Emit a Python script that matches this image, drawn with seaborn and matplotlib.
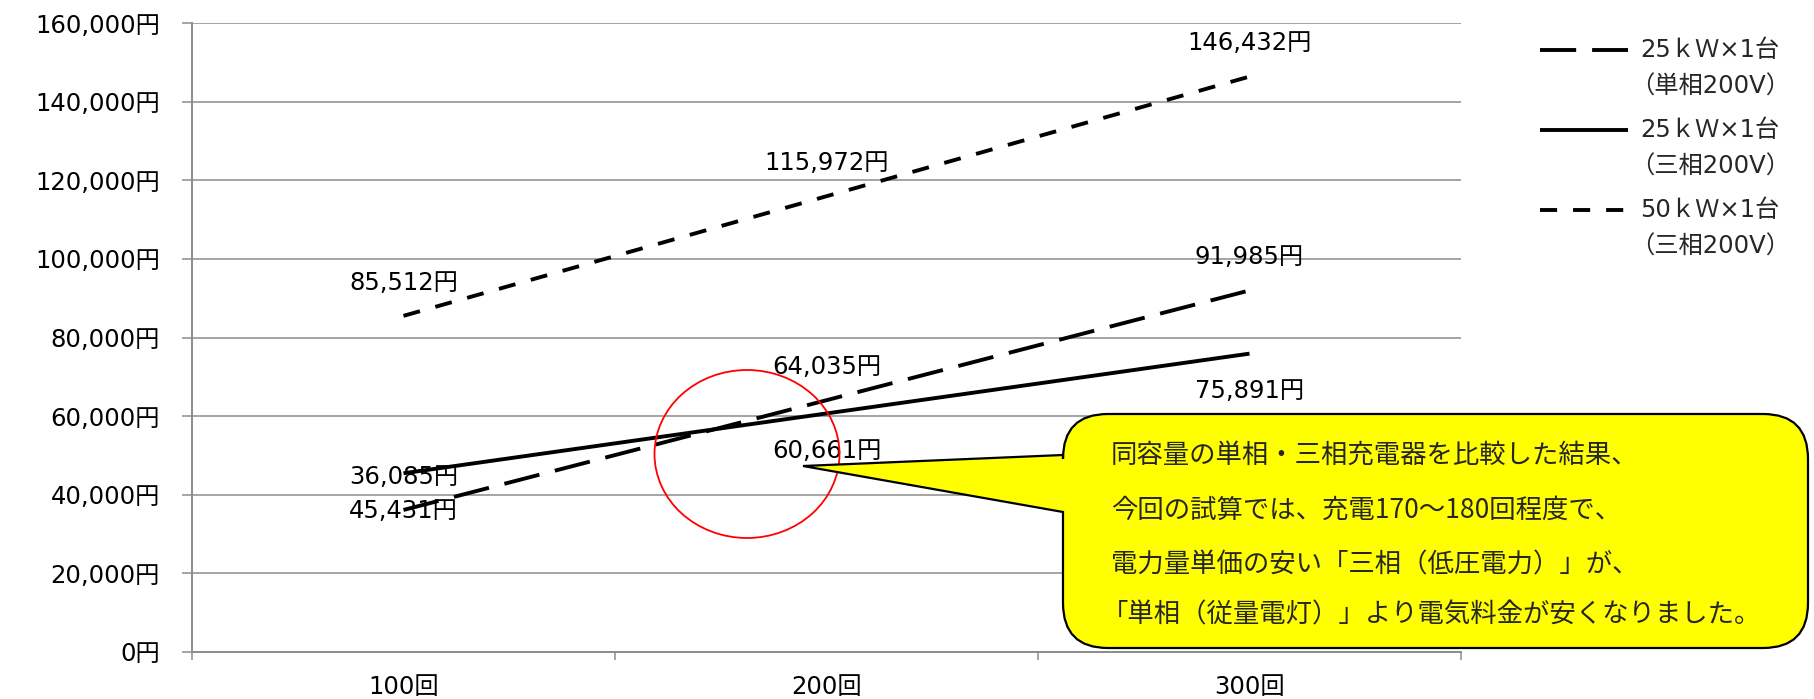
import matplotlib
matplotlib.use("Agg")
import matplotlib.pyplot as plt
from matplotlib.lines import Line2D
from matplotlib.patches import Ellipse, PathPatch
from matplotlib.path import Path
from matplotlib.ticker import FuncFormatter
import numpy as np
import pandas as pd
import seaborn as sns

# --- data ---
counts = ["100回", "200回", "300回"]
series = ["25ｋＷ×1台\n（単相200V）", "25ｋＷ×1台\n（三相200V）", "50ｋＷ×1台\n（三相200V）"]
single_25kw = [36085, 64035, 91985]
three_25kw = [45431, 60661, 75891]
three_50kw = [85512, 115972, 146432]
note_lines = [
    "同容量の単相・三相充電器を比較した結果、",
    "今回の試算では、充電170～180回程度で、",
    "電力量単価の安い「三相（低圧電力）」が、",
    "「単相（従量電灯）」より電気料金が安くなりました。",
]

W, H = 1815, 699
GRAY = "#8c8c8c"
LW = 2.8
FS = 17.5
dash_map = {series[0]: (9.3, 4.1), series[1]: "", series[2]: (4.4, 4.1)}
# label offset in points: above (+) or below (-) the point
label_offset = {series[0]: 24, series[1]: -27, series[2]: 24}

sns.set_theme(style="white")
plt.rcParams["font.family"] = ["DejaVu Sans", "Noto Sans CJK JP"]

df = pd.DataFrame({
    "pos": list(range(len(counts))) * 3,
    "cost": single_25kw + three_25kw + three_50kw,
    "series": np.repeat(series, len(counts)),
})

fig = plt.figure(figsize=(W / 100, H / 100), dpi=100)
ax = fig.add_axes([192 / W, (H - 651.7) / H, (1461 - 192) / W, (651.7 - 23.3) / H])


def px(x, y):
    """top-left pixel coords -> figure fraction"""
    return x / W, 1 - y / H


sns.lineplot(data=df, x="pos", y="cost", style="series", style_order=series,
             dashes=dash_map, color="black", lw=LW, legend=False, sort=False, ax=ax)
for line in ax.get_lines():
    line.set_dash_capstyle("butt")
    line.set_solid_capstyle("butt")

for name, vals in zip(series, [single_25kw, three_25kw, three_50kw]):
    off = label_offset[name]
    for i, v in enumerate(vals):
        ax.annotate(f"{v:,}円", (i, v), xytext=(0, off), textcoords="offset points",
                    ha="center", va="center", fontsize=FS, color="black",
                    annotation_clip=False, zorder=5)

ax.set_xlim(-0.5, len(counts) - 0.5)
ax.set_ylim(0, 160000)
ax.set_yticks(np.arange(0, 160001, 20000))
ax.yaxis.set_major_formatter(FuncFormatter(lambda v, _: f"{int(v):,}円"))
ax.set_xticks(np.arange(-0.5, len(counts), 1.0))
ax.set_xticklabels([])
ax.set_xticks(range(len(counts)), minor=True)
ax.set_xticklabels(counts, minor=True)
ax.set_xlabel("")
ax.set_ylabel("")

ax.tick_params(axis="y", which="major", length=7.2, width=1.1, color=GRAY, pad=16,
               labelsize=FS, labelcolor="black", left=True)
ax.tick_params(axis="x", which="major", length=5.8, width=1.1, color=GRAY, bottom=True)
ax.tick_params(axis="x", which="minor", length=0, pad=17, labelsize=FS, labelcolor="black")

ax.yaxis.grid(True, color=GRAY, lw=1.1)
ax.xaxis.grid(False)
for side in ["top", "right"]:
    ax.spines[side].set_visible(False)
for side in ["left", "bottom"]:
    ax.spines[side].set_color(GRAY)
    ax.spines[side].set_linewidth(1.4)
ax.set_facecolor("white")

# legend drawn by hand (handle aligned with first text line)
leg_y = [50, 130, 210]
for name, y in zip(series, leg_y):
    (x0, yy), (x1, _) = px(1540, y), px(1628, y)
    ln = Line2D([x0, x1], [yy, yy], transform=fig.transFigure, color="black", lw=LW,
                solid_capstyle="butt", dash_capstyle="butt")
    if dash_map[name]:
        ln.set_dashes(dash_map[name])
    fig.add_artist(ln)
    first, second = name.split("\n")
    fig.text(*px(1640, y), first, ha="left", va="center", fontsize=FS)
    fig.text(*px(1630, y + 37), second, ha="left", va="center", fontsize=FS)

# red circle around the crossing point
fig.add_artist(Ellipse(px(747, 454), 185 / W, 168 / H, transform=fig.transFigure,
                       fill=False, edgecolor="red", lw=1.3, zorder=6))

# yellow callout with pointer
bx0, by0, bx1, by1, r = 1063, 414, 1808, 648, 45
pts = [
    ((bx0 + r, by0), Path.MOVETO),
    ((bx1 - r, by0), Path.LINETO),
    ((bx1, by0), Path.CURVE3), ((bx1, by0 + r), Path.CURVE3),
    ((bx1, by1 - r), Path.LINETO),
    ((bx1, by1), Path.CURVE3), ((bx1 - r, by1), Path.CURVE3),
    ((bx0 + r, by1), Path.LINETO),
    ((bx0, by1), Path.CURVE3), ((bx0, by1 - r), Path.CURVE3),
    ((bx0, 512), Path.LINETO),
    ((803, 466), Path.LINETO),
    ((bx0, 455), Path.LINETO),
    ((bx0, by0 + r), Path.LINETO),
    ((bx0, by0), Path.CURVE3), ((bx0 + r, by0), Path.CURVE3),
    ((bx0 + r, by0), Path.CLOSEPOLY),
]
verts = [px(*p) for p, _ in pts]
codes = [c for _, c in pts]
fig.add_artist(PathPatch(Path(verts, codes), transform=fig.transFigure,
                         facecolor="#ffff00", edgecolor="black", lw=1.6, zorder=7))

note_x = [1111, 1111, 1111, 1102]
note_y = [455, 510, 565, 615]
for txt, nx, ny in zip(note_lines, note_x, note_y):
    fig.text(*px(nx, ny), txt, ha="left", va="center", fontsize=19,
             family=["Noto Sans CJK JP", "DejaVu Sans"], zorder=8)

fig.savefig("out.png", dpi=100, facecolor="white")
